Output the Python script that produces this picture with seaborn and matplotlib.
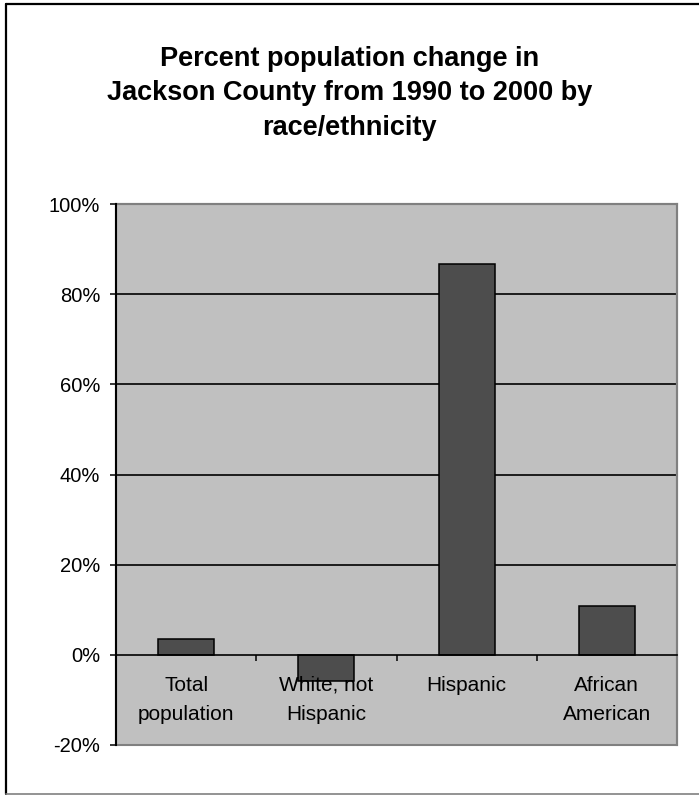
import matplotlib
matplotlib.use("Agg")
import matplotlib.pyplot as plt
import matplotlib.ticker as mtick
from matplotlib.patches import Rectangle
from matplotlib.lines import Line2D
import seaborn as sns

# Data (percent change 1990 -> 2000)
categories = ["Total\npopulation", "White, not\nHispanic", "Hispanic", "African\nAmerican"]
pct_change = [3.6, -5.7, 86.6, 10.8]
y_ticks = [-20, 0, 20, 40, 60, 80, 100]

TITLE = "Percent population change in\nJackson County from 1990 to 2000 by\nrace/ethnicity"

sns.set_style("white")
plt.rcParams["font.family"] = ["Liberation Sans", "DejaVu Sans"]
plt.rcParams["axes.unicode_minus"] = False
plt.rcParams["text.color"] = "black"

fig = plt.figure(figsize=(6.99, 7.95), dpi=100)
ax = fig.add_axes([116 / 699, 50 / 795, 561 / 699, 541 / 795])
ax.set_facecolor("#C0C0C0")

sns.barplot(x=list(range(len(categories))), y=pct_change, width=0.4,
            color="#4D4D4D", saturation=1, edgecolor="black", linewidth=1.1,
            ax=ax, zorder=3)

ax.set_ylim(-20, 100)
ax.set_xlim(-0.5, len(categories) - 0.5)
ax.set_yticks(y_ticks)
ax.yaxis.set_major_formatter(mtick.PercentFormatter(decimals=0))
ax.tick_params(axis="y", direction="out", length=4.3, width=1.1, pad=7.2,
               labelsize=14.5, colors="black", labelcolor="black", left=True)

# horizontal gridlines
for t in y_ticks[2:-1]:
    ax.axhline(t, color="black", lw=1.2, zorder=1)

# x axis at zero, ticks at category boundaries
ax.spines["bottom"].set_position(("data", 0))
ax.spines["bottom"].set_color("black")
ax.spines["bottom"].set_linewidth(1.2)
ax.spines["bottom"].set_zorder(4)
ax.set_xticks([i - 0.5 for i in range(len(categories) + 1)])
ax.set_xticklabels([])
ax.tick_params(axis="x", direction="out", length=4.3, width=1.1, bottom=True,
               colors="black")
ax.set_xlabel("")

for side in ["top", "right"]:
    ax.spines[side].set_color("#808080")
    ax.spines[side].set_linewidth(1.5)
ax.spines["left"].set_color("black")
ax.spines["left"].set_linewidth(1.5)
ax.spines["left"].set_zorder(5)

# bottom border of the plot area
ax.add_patch(Rectangle((0, 0), 1, 1, transform=ax.transAxes, fill=False,
                       edgecolor="#808080", lw=1.5, zorder=2, clip_on=False))

# category labels below the zero line
for i, lab in enumerate(categories):
    ax.annotate(lab, xy=(i, 0), xytext=(0, -21), textcoords="offset pixels",
                ha="center", va="top", fontsize=15, linespacing=1.65,
                color="black", zorder=6)

fig.text(0.5, 1 - 46 / 795, TITLE, ha="center", va="top", fontsize=19.5,
         fontweight="bold", linespacing=1.42, color="black")

# chart border (top and left black, bottom grey)
fig.add_artist(Line2D([6 / 699, 6 / 699], [1 - 4 / 795, 1 / 795],
                      transform=fig.transFigure, color="black", lw=1.6))
fig.add_artist(Line2D([6 / 699, 1], [1 - 4 / 795, 1 - 4 / 795],
                      transform=fig.transFigure, color="black", lw=1.6))
fig.add_artist(Line2D([6 / 699, 1], [1.5 / 795, 1.5 / 795],
                      transform=fig.transFigure, color="#808080", lw=1.2))

fig.savefig("out.png", dpi=100)
